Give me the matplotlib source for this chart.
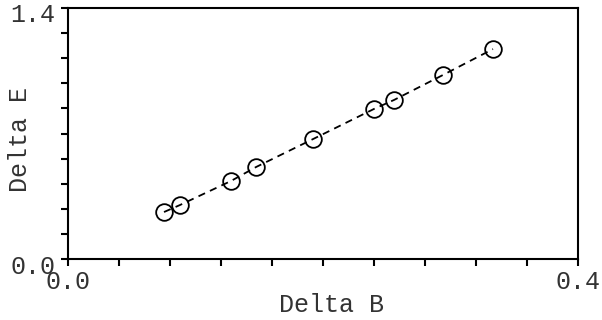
import matplotlib
matplotlib.use("Agg")
import matplotlib.pyplot as plt
import matplotlib.transforms as mtransforms
from matplotlib.ticker import MultipleLocator, FixedLocator

delta_b = [0.0753, 0.0878, 0.1278, 0.1475, 0.1922, 0.2400, 0.2557, 0.2940, 0.3333]
delta_e = [0.262, 0.301, 0.435, 0.513, 0.669, 0.837, 0.887, 1.026, 1.171]
x_ticks = [0.0, 0.4]
x_ticklabels = ["0.0", "0.4"]
y_ticks = [0.0, 1.4]
y_ticklabels = ["0.0", "1.4"]

font = ["Liberation Mono", "DejaVu Sans Mono"]
plt.rcParams['font.family'] = font
FS = 18
TXT = "#333333"

fig = plt.figure(figsize=(6.02, 3.2), dpi=100)
ax = fig.add_axes([68/602, 61/320, 510/602, 251/320])
ax.plot(delta_b, delta_e, linestyle=(0, (4, 3)), color="black", linewidth=1.3,
        marker="o", markersize=12, markerfacecolor="none", markeredgecolor="black",
        markeredgewidth=1.3)
ax.set_xlim(0, 0.4)
ax.set_ylim(0, 1.4)
ax.xaxis.set_major_locator(FixedLocator(x_ticks))
ax.yaxis.set_major_locator(FixedLocator(y_ticks))
ax.set_xticklabels(x_ticklabels)
ax.set_yticklabels(y_ticklabels)
ax.xaxis.set_minor_locator(MultipleLocator(0.04))
ax.yaxis.set_minor_locator(MultipleLocator(0.14))
ax.tick_params(which="both", direction="out", length=5, width=1.5, labelsize=FS,
               colors="black", labelcolor=TXT)
ax.tick_params(axis="x", which="major", pad=3)
ax.tick_params(axis="y", which="major", pad=4)
off = mtransforms.ScaledTranslation(0, -5/100, fig.dpi_scale_trans)
for lab in ax.get_yticklabels():
    lab.set_transform(lab.get_transform() + off)
for s in ax.spines.values():
    s.set_linewidth(1.5)

fig.text(332/602, 1 - 305/320, "Delta B", fontsize=FS, color=TXT, ha="center", va="center")
fig.text(20/602, 1 - 139/320, "Delta E", fontsize=FS, color=TXT, ha="center", va="center",
         rotation=90)
fig.savefig("out.png", dpi=100)
